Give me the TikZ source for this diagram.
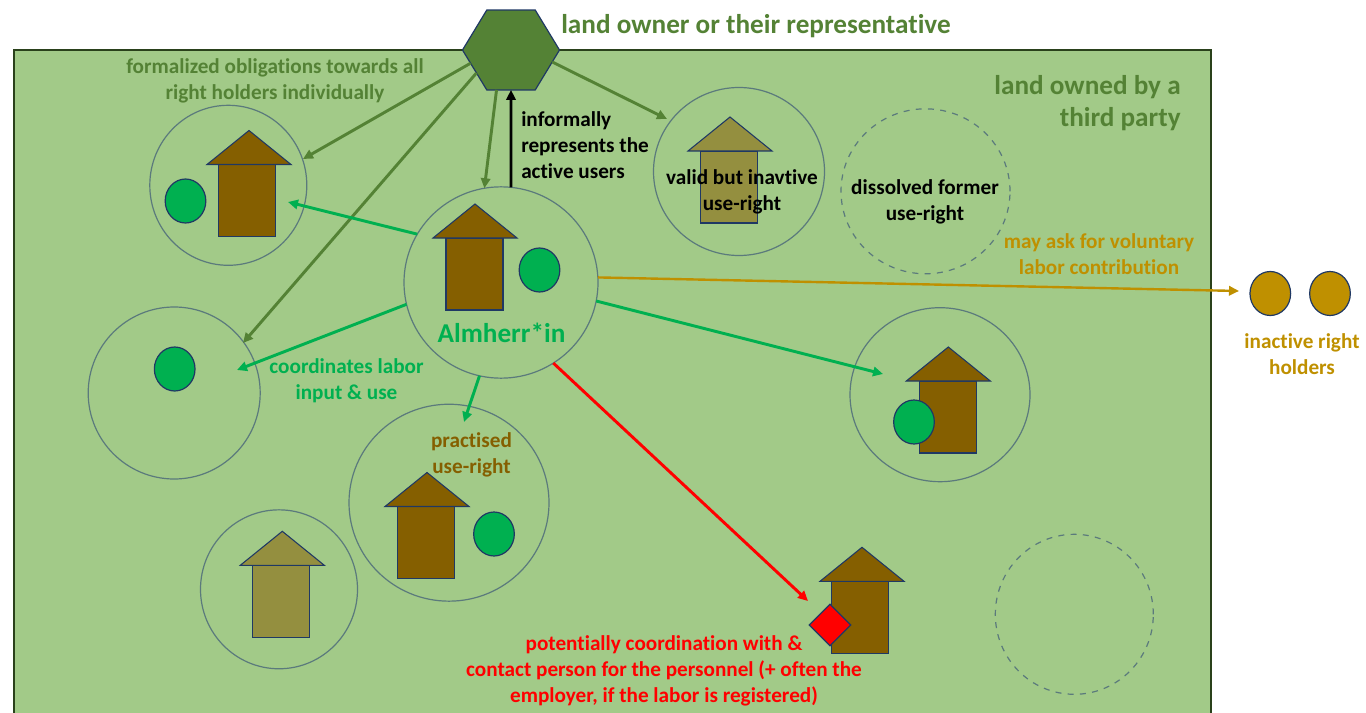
\documentclass[tikz,border=0pt]{standalone}
\usepackage{fontspec}
\setmainfont[Ligatures=NoCommon]{Carlito}
\usepackage{xcolor}
\usetikzlibrary{arrows.meta,shapes.geometric}
\definecolor{fieldgreen}{HTML}{A2CA88}
\definecolor{ownergreen}{HTML}{548235}
\definecolor{usergreen}{HTML}{00B050}
\definecolor{housebrown}{HTML}{855F00}
\definecolor{houseolive}{HTML}{948F3F}
\definecolor{gold}{HTML}{BF9000}
\definecolor{outline}{HTML}{1F3864}
\definecolor{ringline}{HTML}{5B7A7C}
\tikzset{
  ring/.style={ellipse, draw=ringline, line width=.9pt, inner sep=0pt, outer sep=0pt, minimum width=#1*.75pt, minimum height=#1*.75pt},
  oldring/.style={ring=#1, dash pattern=on 4.5pt off 4.7pt},
  person/.style={ellipse, draw=outline, line width=.9pt, inner sep=0pt, minimum width=30.5pt, minimum height=33pt, fill=#1},
  link/.style={line width=2.2pt, -{Triangle[length=7.5pt,width=7pt]}, draw=#1},
  lbl/.style={font=\fontsize{15.9}{19.5}\selectfont\bfseries, align=center, inner sep=0pt},
  biglbl/.style={font=\fontsize{20.4}{24.5}\selectfont\bfseries, align=center, inner sep=0pt},
}
\newcommand{\house}[5]{% name, roof x, apex y, body x, colour
  \fill [#5, draw=outline, line width=.8pt] (#4-28.5, #3+34) rectangle (#4+28.5, #3+106);
  \fill [#5, draw=outline, line width=.8pt] (#2, #3) -- (#2+42, #3+34) -- (#2-42, #3+34) -- cycle;
  \coordinate (#1) at (#2, #3);
}
\begin{document}
\begin{tikzpicture}[x=.75pt, y=-.75pt]
  \useasboundingbox (0,0) rectangle (1366,713);
  \clip (0,0) rectangle (1366,713);
  % Land
  \draw [fill=fieldgreen, draw=black!50!ownergreen, line width=.9pt] (14,50) rectangle (1211,720);
  % Use-right circles
  \node (leftring)   at (228.3,185.3) [ring=157, minimum height=120pt] {};
  \node (almherr)    at (501,282.5)   [ring=194, minimum height=143.5pt] {};
  \node (validring)  at (739,171.5)   [ring=171, minimum height=126pt] {};
  \node (goneringa)  at (925.5,191.3) [oldring=169, minimum height=123.7pt] {};
  \node (farring)    at (174.2,393)   [ring=172] {};
  \node (practring)  at (449,502.7)   [ring=200, minimum height=147.7pt] {};
  \node (olivering)  at (279,589.3)   [ring=157, minimum height=119.2pt] {};
  \node (rightring)  at (940,394.7)   [ring=180, minimum height=130.5pt] {};
  \node (goneringb)  at (1074.3,614.3) [oldring=158, minimum height=120pt] {};
  % Houses
  \house{hleft}{249}{130.5}{246.7}{housebrown}
  \house{halm}{475}{204}{474.5}{housebrown}
  \house{hvalid}{730}{117}{728.8}{houseolive}
  \house{hright}{948.3}{347}{948.3}{housebrown}
  \house{hpract}{427}{472.5}{425.7}{housebrown}
  \house{holive}{282.3}{531.3}{280.7}{houseolive}
  \house{hstaff}{862}{547.3}{860}{housebrown}
  % Users
  \node (pleft)  at (185.5,201) [person=usergreen] {};
  \node (palm)   at (539.5,270) [person=usergreen] {};
  \node (pfar)   at (174.7,369) [person=usergreen] {};
  \node (ppract) at (494,534)   [person=usergreen] {};
  \node (pright) at (914,422)   [person=usergreen] {};
  \node (inacta) at (1270.3,293.5) [person=gold] {};
  \node (inactb) at (1330,293.5)   [person=gold] {};
  \node (staff)  at (830,625) [diamond, aspect=1, draw=outline, line width=.9pt, fill=red, inner sep=0pt, minimum size=31.5pt] {};
  % Owner
  \node (owner) at (511,50) [regular polygon, regular polygon sides=6, yscale=.95, transform shape,
    draw=outline, line width=.9pt, fill=ownergreen, inner sep=0pt, outer sep=0pt, minimum size=72.75pt] {};
  % Free ends
  \coordinate (endleft)  at (303,159);
  \coordinate (endfar)   at (243,343);
  \coordinate (endvalid) at (667,119);
  \coordinate (useleft)  at (288,202);
  \coordinate (usefar)   at (237,370);
  \coordinate (usepract) at (464,422);
  \coordinate (useright) at (883,374);
  \coordinate (endstaff) at (808,601);
  \coordinate (endgold)  at (1239,291);
  % Connectors
  \draw [link=ownergreen] (owner.199) -- (endleft);
  \draw [link=ownergreen] (owner.215) -- (endfar);
  \draw [link=ownergreen] (owner.251) -- (almherr.100);
  \draw [link=ownergreen] (owner.-17) -- (endvalid);
  \draw [link=black] (almherr.84.6) -- (owner.south);
  \draw [link=usergreen] (almherr.150.8) -- (useleft);
  \draw [link=usergreen] (almherr.193.5) -- (usefar);
  \draw [link=usergreen] (almherr.257) -- (usepract);
  \draw [link=usergreen] (almherr.-11) -- (useright);
  \draw [link=red] (almherr.-57) -- (endstaff);
  \draw [link=gold, line width=1.8pt] (almherr.3) -- (endgold);
  % Labels
  \node (ownertxt) at (756,26) [lbl, font=\fontsize{20.4}{24}\selectfont\bfseries, text=ownergreen] {land owner or their representative};
  \node (thirdtxt) at (1087.5,103) [biglbl, align=right, text=ownergreen] {land owned by a\\third party};
  \node (obligtxt) at (275,81) [lbl, text=ownergreen] {formalized obligations towards all\\right holders individually};
  \node (infotxt)  at (521,145) [lbl, anchor=west, align=left] {informally\\represents the\\active users};
  \node (validtxt) at (742,192) [lbl] {valid but inavtive\\use-right};
  \node (dissoltxt) at (925,202) [lbl] {dissolved former\\use-right};
  \node (asktxt)   at (1099,254) [lbl, text=gold] {may ask for voluntary\\labor contribution};
  \node (inacttxt) at (1302,354) [lbl, text=gold] {inactive right\\holders};
  \node (almtxt)   at (501.5,333) [biglbl, text=usergreen] {Almherr*in};
  \node (coordtxt) at (346.5,381) [lbl, text=usergreen] {coordinates labor\\input \& use};
  \node (practtxt) at (471.5,455) [lbl, text=housebrown] {practised\\use-right};
  \node (stafftxt) at (664,671) [lbl, text=red] {potentially coordination with \&\\contact person for the personnel (+ often the\\employer, if the labor is registered)};
\end{tikzpicture}
\end{document}
